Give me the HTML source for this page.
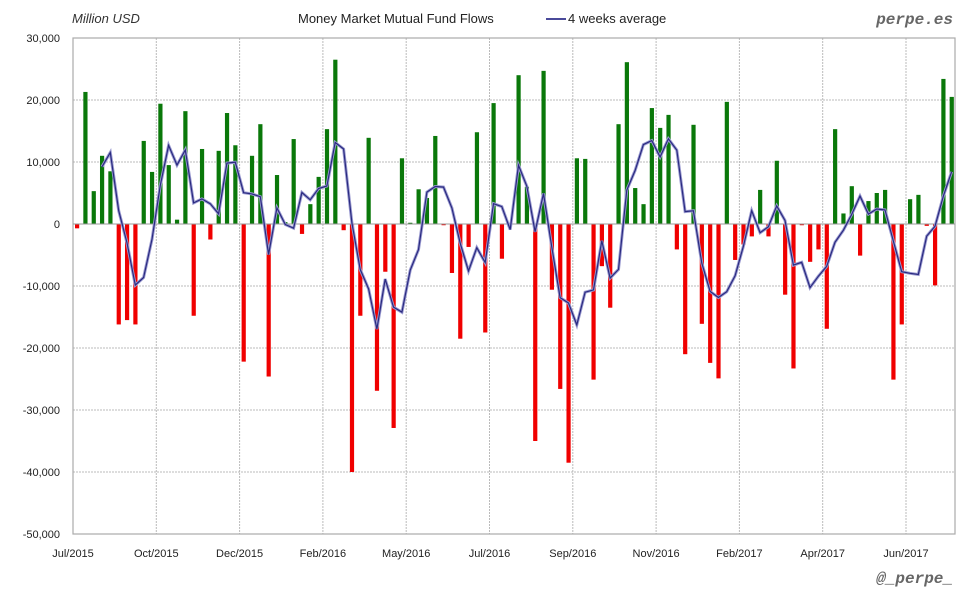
<!DOCTYPE html>
<html><head><meta charset="utf-8"><style>
html,body{margin:0;padding:0;background:#fff;width:980px;height:600px;overflow:hidden}
svg{display:block}
text{font-family:"Liberation Sans",sans-serif}
</style></head><body>
<svg id="c" width="980" height="600" xmlns="http://www.w3.org/2000/svg">
<rect x="0" y="0" width="980" height="600" fill="#fff"/>
<g id="grid"></g>
<rect x="73" y="38" width="882" height="496" fill="none" stroke="#aaa" stroke-width="1.2"/>
<g id="bars"></g>
<g id="labels" font-size="11" fill="#222"></g>
<text x="72" y="23" font-size="13" font-style="italic" fill="#333">Million USD</text>
<text x="298" y="23" font-size="13" fill="#222">Money Market Mutual Fund Flows</text>
<line x1="546" y1="19" x2="566" y2="19" stroke="#4a4a9a" stroke-width="2"/>
<text x="568" y="23" font-size="13" fill="#222">4 weeks average</text>
<text x="953" y="24" font-size="16" font-weight="bold" font-style="italic" fill="#666" text-anchor="end" font-family="Liberation Mono,monospace" style="font-family:'Liberation Mono',monospace">perpe.es</text>
<text x="953" y="583" font-size="16" font-weight="bold" font-style="italic" fill="#666" text-anchor="end" style="font-family:'Liberation Mono',monospace">@_perpe_</text>
</svg>
<script>
var v=[-0.7,21.3,5.3,11,8.5,-16.2,-15.5,-16.2,13.4,8.4,19.4,9.5,0.7,18.2,-14.8,12.1,-2.5,11.8,17.9,12.7,-22.2,11,16.1,-24.6,7.9,0.3,13.7,-1.6,3.2,7.6,15.3,26.5,-1,-40,-14.8,13.9,-26.9,-7.7,-32.9,10.6,0.2,5.6,4.2,14.2,-0.2,-7.9,-18.5,-3.7,14.8,-17.5,19.5,-5.6,0,24,6,-35,24.7,-10.6,-26.6,-38.5,10.6,10.5,-25.1,-6.8,-13.5,16.1,26.1,5.8,3.2,18.7,15.5,17.6,-4.1,-21,16,-16.1,-22.4,-24.9,19.7,-5.8,-3.3,-2,5.5,-2,10.2,-11.4,-23.3,-0.2,-6.1,-4.1,-16.9,15.3,1.7,6.1,-5.1,3.7,5,5.5,-25.1,-16.2,4,4.7,-0.3,-9.9,23.4,20.5];
var ns="http://www.w3.org/2000/svg";
function el(t,a,p){var e=document.createElementNS(ns,t);for(var k in a)e.setAttribute(k,a[k]);if(p)p.appendChild(e);return e;}
function Y(x){return 224-x*6.2;}
var g=document.getElementById('grid'),b=document.getElementById('bars'),L=document.getElementById('labels');
for(var k=-50;k<=30;k+=10){var y=Y(k);
 if(k>-50&&k<30)el('line',{x1:73,x2:955,y1:y,y2:y,stroke:'#bbb','stroke-dasharray':'2,1'},g);
 var t=el('text',{x:60,y:y+4,'text-anchor':'end'},L);t.textContent=(k==0?'0':(k<0?'-':'')+Math.abs(k)+',000');}
var mons=['Jul/2015','Oct/2015','Dec/2015','Feb/2016','May/2016','Jul/2016','Sep/2016','Nov/2016','Feb/2017','Apr/2017','Jun/2017'];
for(var i=0;i<11;i++){var x=73+83.3*i;
 if(i>0)el('line',{x1:x,x2:x,y1:38,y2:534,stroke:'#bbb','stroke-dasharray':'2,1'},g);
 var t=el('text',{x:x,y:557,'text-anchor':'middle'},L);t.textContent=mons[i];}
var pts=[];
for(var i=0;i<v.length;i++){var x=77+8.33*i,y=Y(v[i]);
 el('rect',{x:x-2,y:Math.min(y,224),width:4.2,height:Math.abs(y-224),fill:v[i]>=0?'#0a780a':'#f00000'},b);
 if(i>=3){var a=(v[i]+v[i-1]+v[i-2]+v[i-3])/4;pts.push(x.toFixed(1)+','+Y(a).toFixed(1));}}
el('line',{x1:73,x2:955,y1:224,y2:224,stroke:'#999','stroke-width':1},b);
el('polyline',{points:pts.join(' '),fill:'none',stroke:'#9a9ad0','stroke-width':3},b);
el('polyline',{points:pts.join(' '),fill:'none',stroke:'#2a2a80','stroke-width':1.2},b);
</script>
</body></html>
